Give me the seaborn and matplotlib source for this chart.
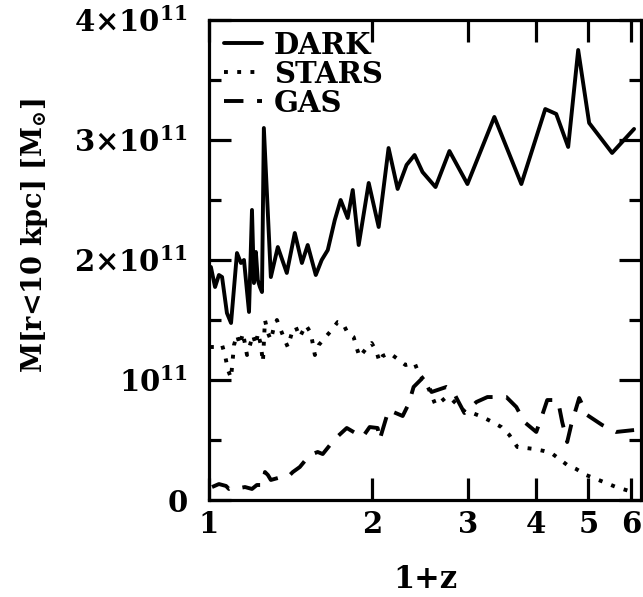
import numpy as np
import pandas as pd
import matplotlib
matplotlib.use("Agg")
import matplotlib.pyplot as plt
import seaborn as sns
from matplotlib.ticker import FixedLocator, FixedFormatter, NullLocator, MultipleLocator

# ---------------- data (1+z, mass in units of 1e11 Msun) ----------------
dark_x = [1.008, 1.026, 1.043, 1.057, 1.079, 1.098, 1.126, 1.145, 1.160, 1.185,
          1.200, 1.210, 1.220, 1.230, 1.241, 1.252, 1.262, 1.300, 1.339, 1.391,
          1.439, 1.483, 1.520, 1.573, 1.613, 1.655, 1.705, 1.748, 1.801, 1.840,
          1.887, 1.969, 2.054, 2.142, 2.226, 2.312, 2.392, 2.474, 2.614, 2.773,
          2.993, 3.355, 3.762, 4.164, 4.362, 4.589, 4.788, 5.016, 5.529, 6.069]
dark_m = [1.942, 1.775, 1.875, 1.858, 1.558, 1.475, 2.058, 1.975, 2.000, 1.567,
          2.417, 1.808, 2.067, 1.833, 1.775, 1.733, 3.100, 1.858, 2.108, 1.892,
          2.225, 1.975, 2.125, 1.875, 2.000, 2.083, 2.333, 2.500, 2.350, 2.583,
          2.125, 2.642, 2.275, 2.933, 2.592, 2.792, 2.875, 2.733, 2.608, 2.908,
          2.633, 3.192, 2.633, 3.258, 3.217, 2.942, 3.750, 3.142, 2.892, 3.092]

stars_x = [1.004, 1.026, 1.057, 1.070, 1.084, 1.098, 1.112, 1.126, 1.140, 1.155,
           1.175, 1.190, 1.205, 1.220, 1.231, 1.246, 1.257, 1.268, 1.284, 1.300,
           1.317, 1.334, 1.356, 1.379, 1.397, 1.421, 1.445, 1.470, 1.508, 1.540,
           1.567, 1.593, 1.634, 1.683, 1.726, 1.763, 1.801, 1.847, 1.871, 1.895,
           1.944, 1.994, 2.036, 2.062, 2.089, 2.151, 2.226, 2.302, 2.392, 2.433,
           2.506, 2.570, 2.614, 2.670, 2.738, 2.809, 2.869, 2.968, 3.057, 3.189,
           3.327, 3.456, 3.575, 3.698, 3.842, 3.974, 4.146, 4.271, 4.418, 4.570,
           4.748, 4.953, 5.167, 5.390, 5.623, 5.867, 6.120]
stars_m = [1.275, 1.275, 1.292, 1.208, 1.083, 1.017, 1.292, 1.375, 1.292, 1.392,
           1.208, 1.292, 1.375, 1.292, 1.392, 1.292, 1.150, 1.500, 1.392, 1.333,
           1.442, 1.500, 1.417, 1.333, 1.275, 1.392, 1.442, 1.358, 1.458, 1.392,
           1.208, 1.292, 1.350, 1.417, 1.483, 1.475, 1.392, 1.358, 1.267, 1.192,
           1.258, 1.308, 1.233, 1.150, 1.200, 1.225, 1.175, 1.125, 1.142, 1.058,
           0.983, 0.875, 0.792, 0.817, 0.858, 0.833, 0.792, 0.733, 0.725, 0.692,
           0.650, 0.608, 0.542, 0.442, 0.433, 0.425, 0.408, 0.392, 0.342, 0.292,
           0.258, 0.208, 0.175, 0.142, 0.108, 0.083, 0.058]

gas_x = [1.013, 1.043, 1.075, 1.088, 1.107, 1.140, 1.165, 1.200, 1.225, 1.257,
         1.268, 1.284, 1.300, 1.339, 1.397, 1.427, 1.470, 1.533, 1.586, 1.620,
         1.705, 1.794, 1.887, 1.919, 1.977, 2.045, 2.062, 2.142, 2.274, 2.332,
         2.382, 2.474, 2.516, 2.570, 2.738, 2.809, 2.857, 2.955, 3.110, 3.258,
         3.530, 3.683, 3.810, 4.008, 4.111, 4.199, 4.381, 4.418, 4.474, 4.570,
         4.648, 4.808, 4.974, 5.300, 5.623, 6.069]
gas_m = [0.108, 0.133, 0.117, 0.092, 0.108, 0.100, 0.108, 0.092, 0.125, 0.125,
         0.233, 0.208, 0.167, 0.183, 0.192, 0.233, 0.275, 0.375, 0.400, 0.383,
         0.508, 0.600, 0.542, 0.525, 0.608, 0.600, 0.500, 0.750, 0.700, 0.800,
         0.942, 1.017, 0.975, 0.900, 0.942, 0.917, 0.850, 0.725, 0.817, 0.858,
         0.858, 0.775, 0.650, 0.567, 0.708, 0.833, 0.833, 0.775, 0.650, 0.483,
         0.625, 0.850, 0.708, 0.625, 0.567, 0.583]

series_labels = ["DARK", "STARS", "GAS"]
x_ticks = [1, 2, 3, 4, 5, 6]
x_ticklabels = ["1", "2", "3", "4", "5", "6"]
y_ticks = [0, 1, 2, 3, 4]  # units of 1e11
y_ticklabels = [r"$\mathbf{0}$", r"$\mathbf{10^{11}}$", r"$\mathbf{2{\times}10^{11}}$",
                r"$\mathbf{3{\times}10^{11}}$", r"$\mathbf{4{\times}10^{11}}$"]
UNIT = 1e11

# ---------------- style ----------------
sns.set_style("ticks")
plt.rcParams["font.family"] = ["DejaVu Serif", "DejaVu Sans"]
plt.rcParams["font.weight"] = "bold"
plt.rcParams["mathtext.fontset"] = "dejavuserif"
plt.rcParams["axes.linewidth"] = 2.3
for key in ["text.color", "axes.labelcolor", "xtick.color", "ytick.color",
            "axes.edgecolor", "xtick.labelcolor", "ytick.labelcolor"]:
    plt.rcParams[key] = "black"

FS = 21
fig = plt.figure(figsize=(6.43, 5.97), dpi=100)
ax = fig.add_axes([209 / 643, 1 - 500 / 597, 432 / 643, 480 / 597])

lw = 2.8
sns.lineplot(x=dark_x, y=np.array(dark_m) * UNIT, ax=ax, color="black", lw=lw,
             linestyle="-", estimator=None, sort=False, label=series_labels[0])
sns.lineplot(x=stars_x, y=np.array(stars_m) * UNIT, ax=ax, color="black", lw=lw,
             linestyle=(0, (1, 2.4)), estimator=None, sort=False, label=series_labels[1])
sns.lineplot(x=gas_x, y=np.array(gas_m) * UNIT, ax=ax, color="black", lw=lw,
             linestyle=(0, (5, 3.5)), estimator=None, sort=False, label=series_labels[2])

ax.set_xscale("log")
ax.set_xlim(1, 6.25)
ax.set_ylim(0, 4 * UNIT)
ax.xaxis.set_major_locator(FixedLocator(x_ticks))
ax.xaxis.set_major_formatter(FixedFormatter(x_ticklabels))
ax.xaxis.set_minor_locator(NullLocator())
ax.yaxis.set_major_locator(FixedLocator([v * UNIT for v in y_ticks]))
ax.yaxis.set_major_formatter(FixedFormatter(y_ticklabels))
ax.yaxis.set_minor_locator(MultipleLocator(0.5 * UNIT))

ax.tick_params(which="both", direction="in", top=True, right=True, width=2.3,
               labelsize=FS, colors="black")
ax.tick_params(which="major", length=16)
ax.tick_params(which="minor", length=8.5)
ax.tick_params(axis="x", which="major", pad=7)
ax.tick_params(axis="y", which="major", pad=15)
for lab in ax.get_xticklabels():
    lab.set_fontweight("bold")

ax.set_xlabel("1+z", fontsize=FS + 1, fontweight="bold", labelpad=18, color="black")
ax.set_ylabel(r"M[r<10 kpc] [M$_{\odot}$]", fontsize=FS - 1.5, fontweight="bold",
              color="black")
ax.yaxis.set_label_coords(-0.368, 0.55)

leg = ax.legend(loc="upper left", bbox_to_anchor=(0.035, 0.978), frameon=False,
                handlelength=1.3, handletextpad=0.4, labelspacing=0.0,
                borderpad=0, borderaxespad=0, prop={"size": FS, "weight": "bold"})
for t in leg.get_texts():
    t.set_color("black")

for s in ax.spines.values():
    s.set_color("black")

fig.savefig("out.png", dpi=100, facecolor="white")
